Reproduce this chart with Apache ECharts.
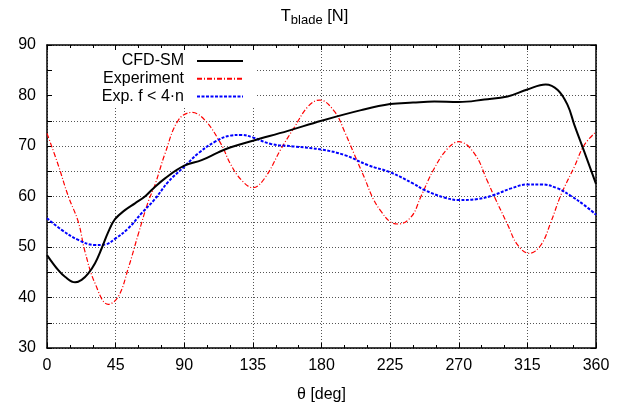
<!DOCTYPE html>
<html><head><meta charset="utf-8">
<script src="https://cdn.jsdelivr.net/npm/echarts@6/dist/echarts.min.js"></script>
<style>html,body{margin:0;padding:0;background:#fff}#c{width:629px;height:405px}</style>
</head><body><div id="c"></div>
<script>
const FONT = '"Liberation Sans", Arial, Helvetica, sans-serif';
const seriesNames = ['CFD-SM', 'Experiment', 'Exp. f < 4\u00b7n'];

const cfdAngle = [0, 7.4, 11.8, 18.4, 22.7, 27.1, 31.5, 35.8, 40.2, 44.6, 51.1, 57.7, 64.2, 69.7, 77.4, 90, 101.4, 112.3, 120, 135, 158, 180, 206, 225, 240, 254, 270, 286.8, 302, 315, 327, 334.9, 341.4, 345.8, 352.3, 360];
const cfdValue = [48.4, 45.4, 44.1, 43.0, 43.5, 44.8, 46.8, 49.7, 53.0, 55.5, 57.3, 58.65, 60.0, 61.6, 63.6, 66.1, 67.2, 68.75, 69.7, 71.05, 73, 75, 77.1, 78.3, 78.6, 78.8, 78.7, 79.2, 79.8, 81.2, 82.2, 81.1, 78.1, 74.2, 68.9, 62.5];

const expAngle = [0, 7.4, 14, 20.5, 24.9, 31.5, 40.2, 46.8, 53.3, 59.9, 66.4, 70.8, 77.4, 86.1, 94.9, 103.6, 114.5, 120, 127.4, 135, 142.7, 153.6, 162.4, 171.1, 178.8, 188.6, 195.2, 201.7, 208.3, 213.8, 219.2, 225, 230.2, 238.9, 245.2, 254, 262.7, 270, 280.2, 289, 293.3, 302.1, 308.6, 316.3, 323.9, 330.5, 337, 345.8, 352.3, 360];
const expValue = [72.5, 66.2, 60, 55, 49.1, 42.8, 38.65, 40.2, 45.8, 52.6, 59, 62.3, 68.5, 75.1, 76.65, 75.1, 70.2, 66.6, 63.3, 61.75, 63.6, 69.5, 73.8, 77.8, 79.1, 76.8, 72.8, 68.2, 63.6, 59.6, 57, 55, 54.55, 56, 60, 65.6, 69.5, 70.85, 68.55, 62.9, 60, 54.4, 50.4, 48.75, 50.4, 55, 60.3, 65.9, 70.2, 72.8];

const lowAngle = [0, 9.6, 20.5, 31.5, 38, 45, 53.3, 62.1, 70.8, 79.5, 90, 99.2, 110.2, 120, 127.4, 135, 147, 162.4, 180, 195.2, 210.5, 225, 240, 247.4, 260.5, 270, 282.4, 292.2, 304.3, 315, 323.9, 334.9, 343.6, 352.3, 360];
const lowValue = [55.7, 53.4, 51.4, 50.4, 50.5, 51.7, 53.7, 56.7, 59.5, 62.9, 65.9, 68.55, 70.85, 72.05, 72.2, 71.7, 70.4, 69.9, 69.3, 68.2, 66.2, 64.8, 62.6, 61.3, 59.8, 59.3, 59.5, 60.2, 61.6, 62.4, 62.4, 61.6, 60.1, 58.3, 56.4];

const xMin = 0, xMax = 360, xStep = 45;
const yMin = 30, yMax = 90, yStep = 10;

function pairs(a, v) { return a.map((x, i) => [x, v[i]]); }

const gridLine = { color: '#555', type: [1, 2], width: 1 };
const frame = { show: true, onZero: false, lineStyle: { color: '#000', width: 1.5 } };
const tickStyle = { color: '#000', width: 1 };

function xAx(pos, main) {
  return {
    type: 'value', position: pos, min: xMin, max: xMax, interval: xStep,
    axisLine: frame,
    axisTick: { show: true, inside: true, length: 5, lineStyle: tickStyle },
    minorTick: { show: true, splitNumber: 3, length: 3, lineStyle: tickStyle },
    axisLabel: { show: main, fontSize: 16, color: '#000', margin: 10, fontFamily: FONT },
    splitLine: { show: main, lineStyle: gridLine },
    name: main ? '\u03b8 [deg]' : '', nameLocation: 'middle', nameGap: 39,
    nameTextStyle: { fontSize: 16, color: '#000', fontFamily: FONT }
  };
}
function yAx(pos, main) {
  return {
    type: 'value', position: pos, min: yMin, max: yMax, interval: yStep,
    axisLine: frame,
    axisTick: { show: true, inside: true, length: 5, lineStyle: tickStyle },
    minorTick: { show: true, splitNumber: 2, length: 5, lineStyle: tickStyle },
    axisLabel: { show: main, fontSize: 16, color: '#000', margin: 11, fontFamily: FONT },
    splitLine: { show: main, lineStyle: gridLine },
    minorSplitLine: { show: main, lineStyle: gridLine }
  };
}

const legendRight = 385;
const legendTops = [53, 70.7, 88.4];
function legendFor(i) {
  return {
    data: [seriesNames[i]], right: legendRight, top: legendTops[i], align: 'right',
    padding: 0, itemWidth: 46, itemHeight: 16, selectedMode: false,
    itemStyle: { opacity: 0 },
    textStyle: { fontSize: 16, color: '#000', fontFamily: FONT, padding: [0, 8, 0, 0] }
  };
}

const chart = echarts.init(document.getElementById('c'), null, { renderer: 'canvas' });
chart.setOption({
  animation: false,
  backgroundColor: '#fff',
  title: {
    text: '{a|T}{b|blade}{a| [N]}', left: 'center', top: 5, padding: [0, 0, 0, 14],
    textStyle: {
      fontWeight: 'normal',
      rich: {
        a: { fontSize: 16.5, fontWeight: 'normal', color: '#000', fontFamily: FONT, lineHeight: 22 },
        b: { fontSize: 13, fontWeight: 'normal', color: '#000', fontFamily: FONT, lineHeight: 10, verticalAlign: 'bottom' }
      }
    }
  },
  grid: { left: 47, right: 33, top: 45, bottom: 57, outerBoundsMode: 'none' },
  xAxis: [xAx('bottom', true), xAx('top', false)],
  yAxis: [yAx('left', true), yAx('right', false)],
  legend: [legendFor(0), legendFor(1), legendFor(2)],
  graphic: [{ type: 'rect', z: 1, shape: { x: 53, y: 51, width: 202, height: 55 }, style: { fill: '#fff' } }],
  series: [
    { name: seriesNames[0], type: 'line', data: pairs(cfdAngle, cfdValue), smooth: 0.4, symbol: 'none', z: 5,
      lineStyle: { color: '#000', width: 2 }, itemStyle: { color: '#000' } },
    { name: seriesNames[1], type: 'line', data: pairs(expAngle, expValue), smooth: 0.4, symbol: 'none', z: 3,
      lineStyle: { color: '#ff0000', width: 1.2, type: [5, 2, 1, 2] }, itemStyle: { color: '#ff0000' } },
    { name: seriesNames[2], type: 'line', data: pairs(lowAngle, lowValue), smooth: 0.4, symbol: 'none', z: 4,
      lineStyle: { color: '#0000ff', width: 2, type: [3, 1.5] }, itemStyle: { color: '#0000ff' } }
  ]
});
</script></body></html>
